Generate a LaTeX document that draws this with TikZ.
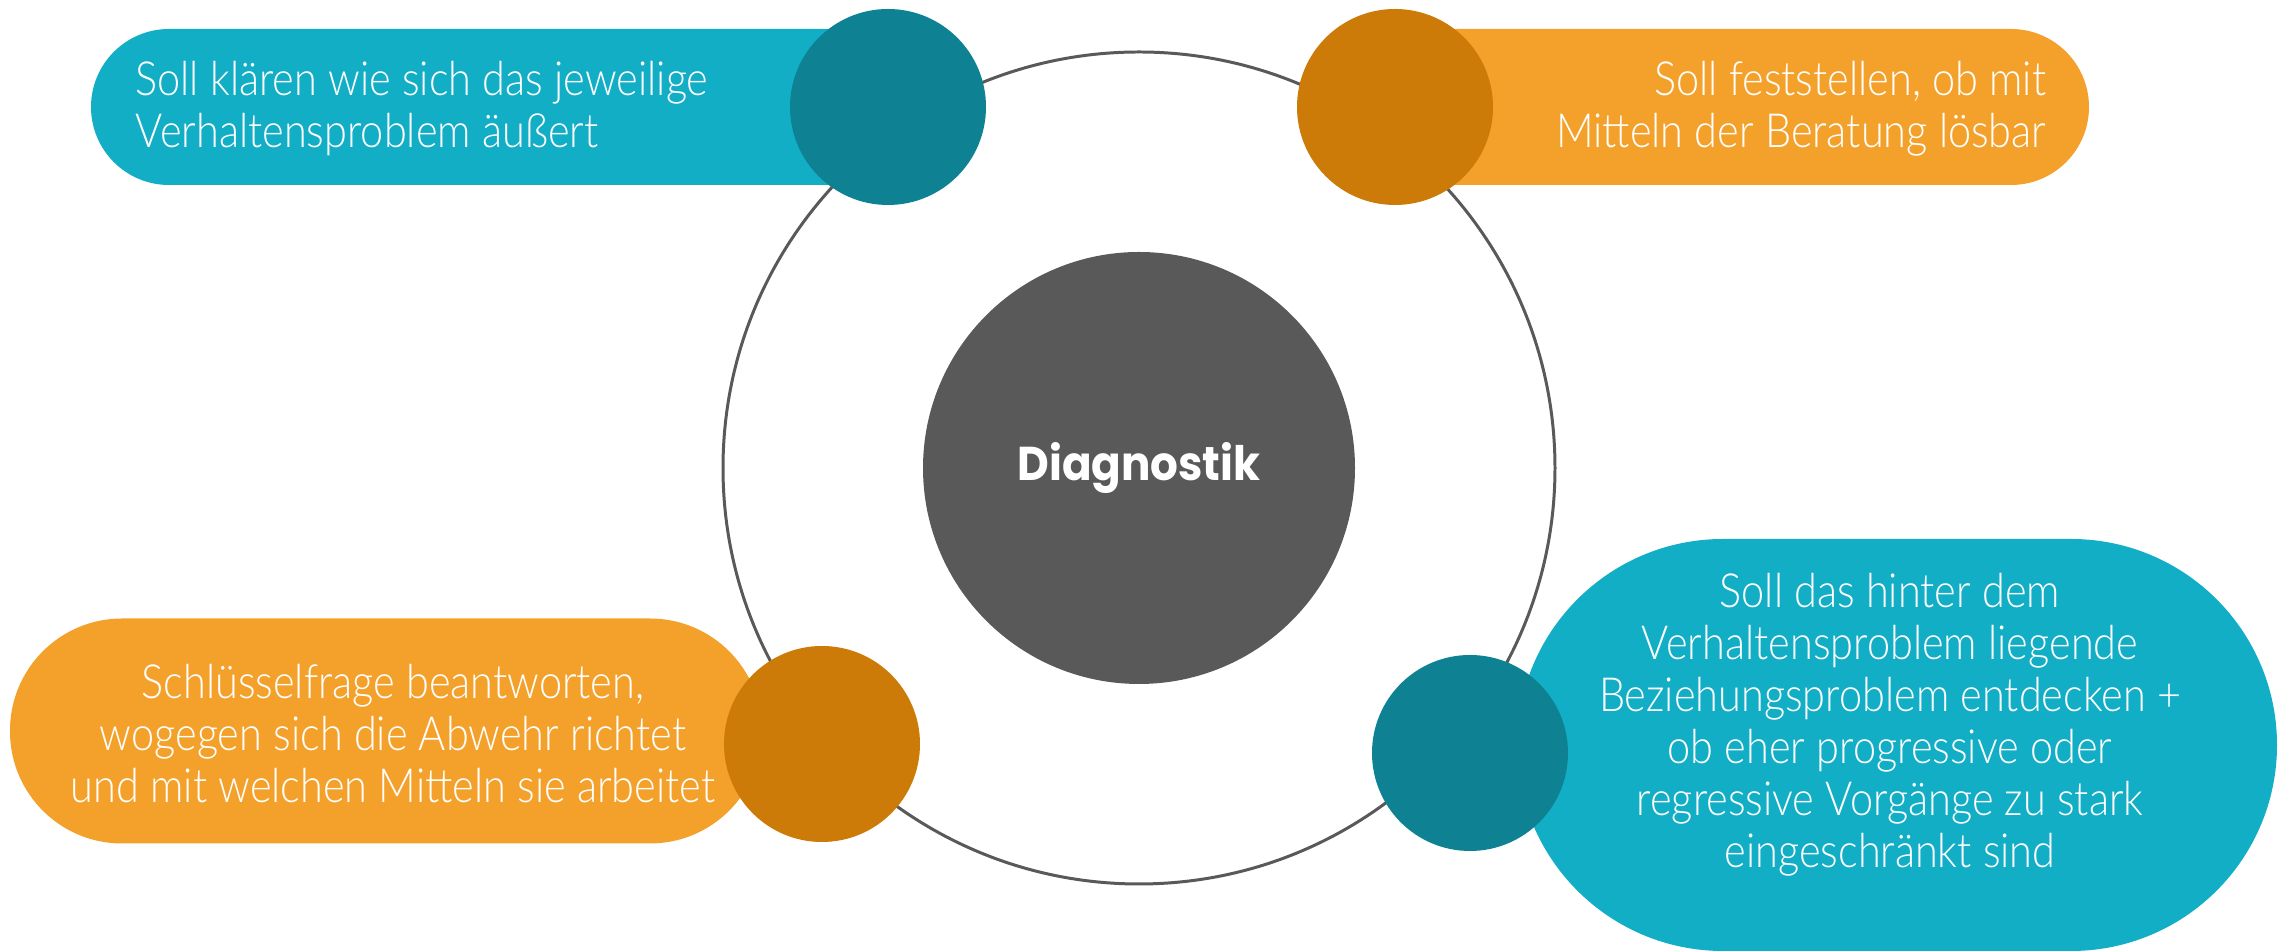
\documentclass[tikz,border=0pt]{standalone}
\usepackage{fontspec}
\setmainfont{Lato Light}[FakeStretch=0.88]
\newfontfamily\headfont{Poppins Bold}[FakeStretch=0.92]
\usepackage{tikz}
\definecolor{PillCyan}{HTML}{12AEC6}
\definecolor{DotTeal}{HTML}{0E8193}
\definecolor{PillOrange}{HTML}{F4A12B}
\definecolor{DotOrange}{HTML}{CC7A08}
\definecolor{CoreGray}{HTML}{595959}
\usetikzlibrary{positioning}

\begin{document}
\begin{tikzpicture}[
pill/.style={
	rectangle,
	inner sep=0pt,
	outer sep=0pt
},
	dot/.style={
	circle,
	inner sep=0pt,
	minimum size=1.96cm
},
	txt/.style={
	text=white,
	inner sep=0pt,
	font=\fontsize{13.4}{14.8}\selectfont
},
]

\useasboundingbox (0,0) rectangle (22.88,-9.51);

\node[circle, draw=CoreGray, line width=0.85pt, minimum size=8.32cm] (ring) at (11.39,-4.68) {};
\node[circle, fill=CoreGray, minimum size=4.32cm, text=white, font=\headfont\fontsize{13.5}{16}\selectfont] (core) at (ring.center) {Diagnostik};

\node[pill, fill=PillCyan, minimum width=8.1cm, minimum height=1.56cm, rounded corners=0.78cm] (aeussert) at (4.96,-1.07) {};
\node[pill, fill=PillOrange, minimum width=7.1cm, minimum height=1.56cm, rounded corners=0.78cm] (loesbar) at (17.34,-1.07) {};
\node[pill, fill=PillOrange, minimum width=7.52cm, minimum height=2.25cm, rounded corners=1.12cm] (abwehr) at (3.86,-7.31) {};
\node[pill, fill=PillCyan, minimum width=7.6cm, minimum height=4.12cm, rounded corners=2.06cm] (beziehung) at (18.97,-7.45) {};

\node[dot, fill=DotTeal] (dTL) at (8.88,-1.07) {};
\node[dot, fill=DotOrange] (dTR) at (13.95,-1.07) {};
\node[dot, fill=DotOrange] (dBL) at (8.22,-7.44) {};
\node[dot, fill=DotTeal] (dBR) at (14.70,-7.53) {};

\node[txt, align=left, anchor=west] (tTL) at (1.35,-1.09) {Soll klären wie sich das jeweilige\\Verhaltensproblem äußert};
\node[txt, align=right, anchor=east] (tTR) at (20.47,-1.09) {Soll feststellen, ob mit\\Mitteln der Beratung lösbar};
\node[txt, align=center] (tBL) at (3.93,-7.34) {Schlüsselfrage beantworten,\\wogegen sich die Abwehr richtet\\und mit welchen Mitteln sie arbeitet};
\node[txt, align=center] (tBR) at (18.90,-7.25) {Soll das hinter dem\\Verhaltensproblem liegende\\Beziehungsproblem entdecken +\\ob eher progressive oder\\regressive Vorgänge zu stark\\eingeschränkt sind};

\end{tikzpicture}
\end{document}
